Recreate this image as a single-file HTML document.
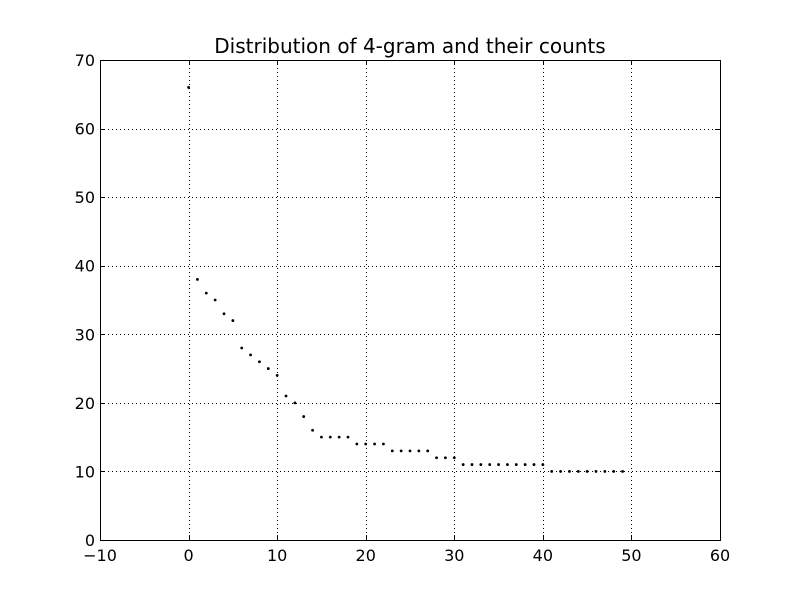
<!DOCTYPE html>
<html><head><meta charset="utf-8"><style>
body{margin:0;background:#fff;}
svg{display:block;font-family:"DejaVu Sans","Liberation Sans",sans-serif;}
</style></head><body>
<svg id="chart" width="800" height="600" viewBox="0 0 800 600">
<rect x="0" y="0" width="800" height="600" fill="#fff"/>
<text x="410" y="53" font-size="20" text-anchor="middle">Distribution of 4-gram and their counts</text>
<g id="grid"></g>
<g id="points"></g>
<rect x="100.5" y="60.5" width="620" height="480" fill="none" stroke="#000" stroke-width="1"/>
<g id="xticks"></g>
<g id="yticks"></g>
</svg>
<script>
const xTicks = [-10, 0, 10, 20, 30, 40, 50, 60];
const yTicks = [0, 10, 20, 30, 40, 50, 60, 70];
const ranks = [0,1,2,3,4,5,6,7,8,9,10,11,12,13,14,15,16,17,18,19,20,21,22,23,24,25,26,27,28,29,30,31,32,33,34,35,36,37,38,39,40,41,42,43,44,45,46,47,48,49];
const counts = [66,38,36,35,33,32,28,27,26,25,24,21,20,18,16,15,15,15,15,14,14,14,14,13,13,13,13,13,12,12,12,11,11,11,11,11,11,11,11,11,11,10,10,10,10,10,10,10,10,10];

const X0=100, X1=720, Y0=540, Y1=60;
const xMin=-10, xMax=60, yMin=0, yMax=70;
function sx(v){return X0+(v-xMin)/(xMax-xMin)*(X1-X0);}
function sy(v){return Y0-(v-yMin)/(yMax-yMin)*(Y0-Y1);}
const NS='http://www.w3.org/2000/svg';
function mk(tag, attrs, parent){const e=document.createElementNS(NS,tag);for(const k in attrs)e.setAttribute(k,attrs[k]);parent.appendChild(e);return e;}
const grid=document.getElementById('grid'), xt=document.getElementById('xticks'), yt=document.getElementById('yticks'), pts=document.getElementById('points');

xTicks.forEach(t=>{
  const x=Math.round(sx(t))+0.5;
  const g=mk('line',{x1:x,x2:x,y1:Y1,y2:Y0,stroke:'#000','stroke-dasharray':'1,3','stroke-width':1},grid);
  
  
  const a=mk('line',{x1:x,x2:x,y1:Y0,y2:Y0-5,stroke:'#000'},xt);
  
  
  const b=mk('line',{x1:x,x2:x,y1:Y1,y2:Y1+5,stroke:'#000'},xt);
  
  
  const l=mk('text',{x:sx(t),y:Y0+21,'font-size':16,'text-anchor':'middle'},xt);
  l.textContent=(t<0?'\u2212'+(-t):t);
  
  
});
yTicks.forEach(t=>{
  const y=Math.round(sy(t))+0.5;
  const g=mk('line',{x1:X0,x2:X1,y1:y,y2:y,stroke:'#000','stroke-dasharray':'1,3','stroke-width':1},grid);
  
  
  const a=mk('line',{x1:X0,x2:X0+5,y1:y,y2:y,stroke:'#000'},yt);
  
  
  const b=mk('line',{x1:X1,x2:X1-5,y1:y,y2:y,stroke:'#000'},yt);
  
  
  const l=mk('text',{x:X0-5,y:sy(t)+6,'font-size':16,'text-anchor':'end'},yt);
  l.textContent=t;
  
  
});
ranks.forEach((r,i)=>{
  const c=mk('circle',{cx:sx(r),cy:sy(counts[i]),r:1.4,fill:'#000'},pts);
  
  
});
</script>
</body></html>
